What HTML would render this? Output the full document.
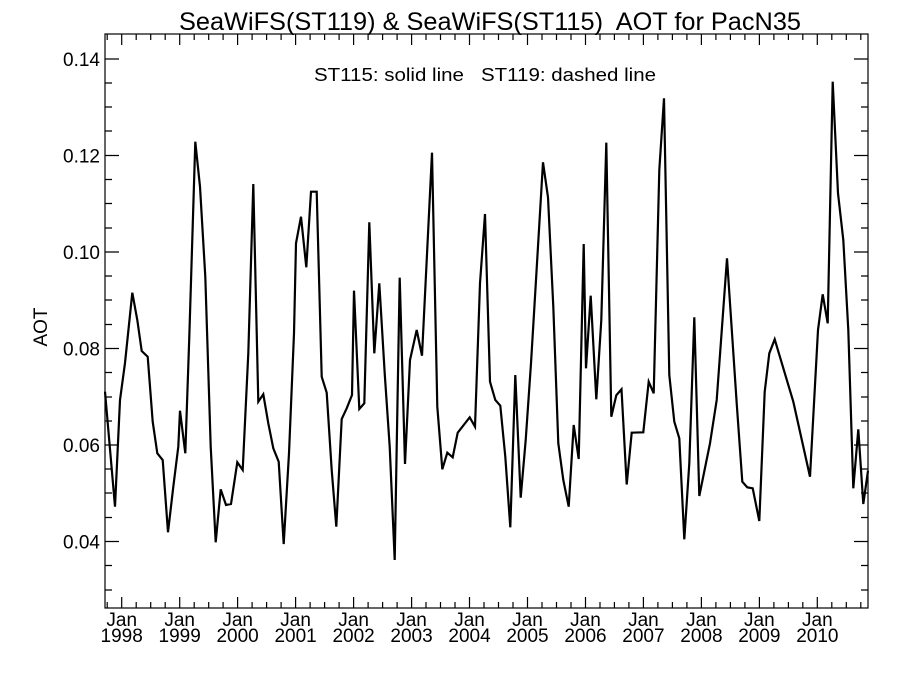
<!DOCTYPE html>
<html><head><style>body{margin:0;background:#fff}svg{display:block}text{font-family:"Liberation Sans",sans-serif;fill:#000}</style></head><body>
<svg width="900" height="675" xmlns="http://www.w3.org/2000/svg">
<text x="179" y="30" font-size="25" textLength="622" lengthAdjust="spacingAndGlyphs" xml:space="preserve">SeaWiFS(ST119) &amp; SeaWiFS(ST115)  AOT for PacN35</text>
<text x="314" y="81" font-size="18" textLength="342" lengthAdjust="spacingAndGlyphs" xml:space="preserve">ST115: solid line   ST119: dashed line</text>
<text transform="translate(47,327) rotate(-90)" font-size="19" text-anchor="middle">AOT</text>
<rect x="105" y="34" width="763" height="574" fill="none" stroke="#000" stroke-width="1.2"/>
<g stroke="#000" stroke-width="1.2" id="yt">
<path d="M105,59h14M105,155.5h14M105,252h14M105,348.5h14M105,445h14M105,541.5h14"/>
<path d="M105,83h7M105,107h7M105,131h7M105,179.5h7M105,203.5h7M105,228h7M105,276h7M105,300h7M105,324.5h7M105,372.5h7M105,397h7M105,421h7M105,469h7M105,493h7M105,517.5h7M105,565.5h7M105,590h7"/>
<path d="M868,59h-14M868,155.5h-14M868,252h-14M868,348.5h-14M868,445h-14M868,541.5h-14"/>
<path d="M868,83h-7M868,107h-7M868,131h-7M868,179.5h-7M868,203.5h-7M868,228h-7M868,276h-7M868,300h-7M868,324.5h-7M868,372.5h-7M868,397h-7M868,421h-7M868,469h-7M868,493h-7M868,517.5h-7M868,565.5h-7M868,590h-7"/>
</g>
<g id="xt" stroke="#000" stroke-width="1.2"></g>
<g font-size="19" text-anchor="end">
<text x="100" y="66">0.14</text><text x="100" y="162.5">0.12</text><text x="100" y="259">0.10</text><text x="100" y="355.5">0.08</text><text x="100" y="452">0.06</text><text x="100" y="548.5">0.04</text>
</g>
<g id="xl" font-size="19" text-anchor="middle"></g>
<polyline fill="none" stroke="#000" stroke-width="2.2" stroke-linejoin="miter" points="105,391.7 115,506.7 120,400 125,363 132.3,292.7 137.3,320 141.7,351 147.7,356.7 152.7,421.7 157.3,453.3 162.7,460 168,532.3 173.3,486.7 178.3,446.7 180,410.7 185.3,453.3 189.3,336.7 195.3,141.7 200,186.7 205.3,276.7 210.7,446.7 215.7,542.3 220.7,489.3 226,505 231,504 237.3,462.3 242.7,470 248.3,353.3 253.3,184 258.3,401.7 263.3,394.3 268.3,423.3 273.3,448.3 278.7,461.7 283.7,544 289,453.3 294,333.3 296,243.3 301,216.7 306.3,267.3 311,191.7 316.7,191.7 321.7,376.7 326.7,392.7 331.7,470 336.3,526.7 341.7,419 346.7,408.3 352,395 354,290.7 359.3,409 364.3,403.3 369.3,222.3 374.3,353.3 379.3,283.3 384.7,373.3 389.7,446.7 394.7,560 399.7,277.7 405,464 410,360 416.7,330 422,355.7 432,152.7 437.3,406.7 442.3,469.3 447.3,452.7 452.7,457.3 457.7,432.7 469.7,417.3 475,426.7 480,283.3 485,214 490,381.7 495.3,400 500.3,405.7 505.3,456.7 510.3,527.3 515.3,375 520.7,497.7 525.7,440 531,363.3 536,280 543,162.3 548,197.3 553.3,306.7 558.3,443.3 563.3,480 568.7,506.7 573.7,425 578.7,459 583.7,244 586,368.3 590.7,295.7 596.3,399.3 601.3,320 606.3,142.7 611.3,416.7 616.3,395.3 621.5,389.3 626.7,484.5 631.7,432.7 643.3,432.3 648.7,381.7 653.7,393.3 659.3,170 664,98.3 669.3,375 674.3,421.7 679.3,438.3 684.3,539.3 689.3,463.3 694.3,317.3 699.3,496 710,443.3 716.7,400 727,258.3 736.7,403.3 742.3,481.7 747.3,487.3 752.7,488.3 759.3,521 764.7,391.7 769.3,353.3 774.7,339.3 793.3,401.7 810,476.7 818,330 822.7,294.3 827.7,323.3 832.7,81.7 838,193.3 843.3,240 848.3,330 853.3,488.3 858.3,429.3 863.3,504 868,470.7"/>
<script>
var xt=document.getElementById('xt'),xl=document.getElementById('xl'),ns='http://www.w3.org/2000/svg',d='';
for(var q=-1;q<60;q++){var x=121.7+q*57.97/4;if(x<105.5||x>867.5)continue;var L=(q%4==0)?11:6;d+='M'+x.toFixed(1)+',608v-'+L+'M'+x.toFixed(1)+',34v'+L;}
var p=document.createElementNS(ns,'path');p.setAttribute('d',d);xt.appendChild(p);
for(var y=0;y<13;y++){var x=121.7+y*57.97;var t=document.createElementNS(ns,'text');t.setAttribute('x',x);t.setAttribute('y',626);t.textContent='Jan';xl.appendChild(t);t=document.createElementNS(ns,'text');t.setAttribute('x',x);t.setAttribute('y',642);t.textContent=String(1998+y);xl.appendChild(t);}
</script>
</svg>
</body></html>
